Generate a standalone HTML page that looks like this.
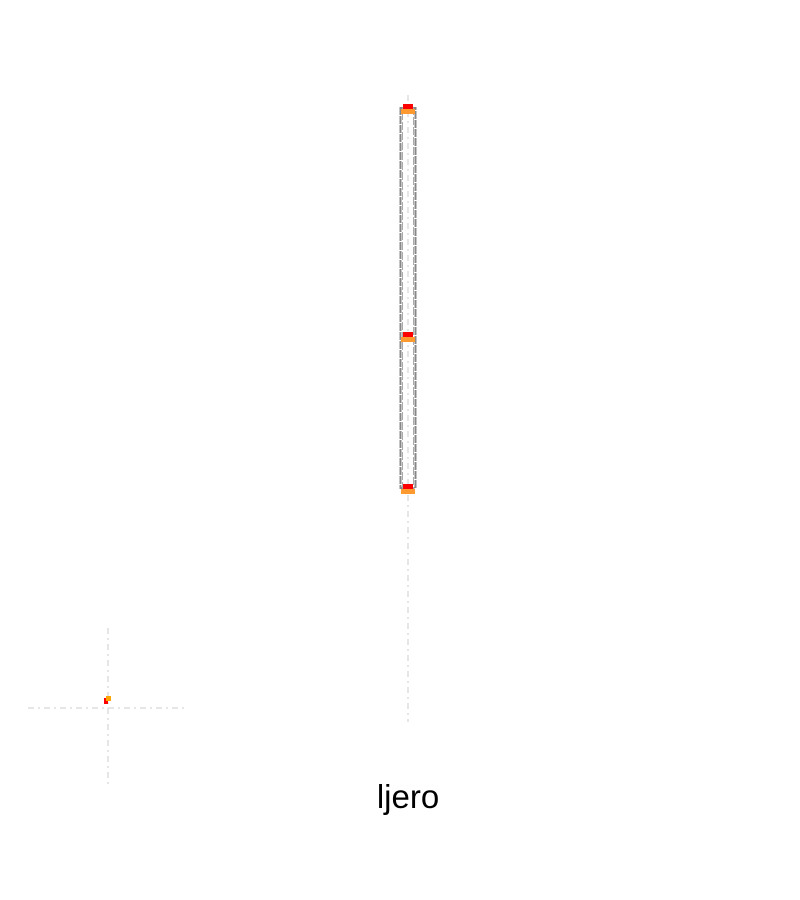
<!DOCTYPE html>
<html><head><meta charset="utf-8"><style>
html,body{margin:0;padding:0;background:#fff;width:800px;height:900px;overflow:hidden}
svg{display:block}
</style></head><body>
<svg id="chart" width="800" height="900" viewBox="0 0 800 900">
<g id="plot"></g>
<text x="408" y="808" text-anchor="middle" font-family="Liberation Sans, sans-serif" font-size="33" fill="#000">ljero</text>
</svg>
<script>
const categories = ["ljero"];
const lowValues = [0.2];
const midValues = [0.48];
const highValues = [0.9];
const ns = "http://www.w3.org/2000/svg";
const plot = document.getElementById("plot");
function xScale(i){ return 408 + i * 100; }
function ys(v){ const a = (488 - 108) / (0.9 - 0.2); return 488 - (v - 0.2) * a; }
function mk(tag, attrs){ const e = document.createElementNS(ns, tag); for (const k in attrs) e.setAttribute(k, attrs[k]); plot.appendChild(e); return e; }
let e = mk("line",{x1:28,y1:708,x2:188,y2:708,stroke:"#ddd","stroke-width":1.5,"stroke-dasharray":"6,4,2,4"});


e = mk("line",{x1:108,y1:628,x2:108,y2:788,stroke:"#ddd","stroke-width":1.5,"stroke-dasharray":"6,4,2,4"});


e = mk("rect",{x:104,y:698,width:4,height:6,fill:"#f00"});


e = mk("rect",{x:106,y:696,width:5,height:5,fill:"#ffa500"});


categories.forEach((c, i) => {
  const cx = xScale(i);
  const yl = ys(lowValues[i]), ym = ys(midValues[i]), yh = ys(highValues[i]);
  let g = mk("line",{x1:cx,y1:95,x2:cx,y2:722,stroke:"#ddd","stroke-width":1.5,"stroke-dasharray":"6,4,2,4"});
  
  
  let b = mk("rect",{x:cx-7.5,y:yh,width:15,height:yl-yh,fill:"none",stroke:"#888","stroke-width":2,"stroke-dasharray":"8,1"});
  
  
  let b2 = mk("rect",{x:cx-5.5,y:yh,width:11,height:yl-yh,fill:"none",stroke:"#aaa","stroke-width":1,"stroke-dasharray":"8,2"});
  
  
  [[yh,'high'],[ym,'mid'],[yl,'low']].forEach(([y,n]) => {
    let r = mk("rect",{x:cx-5,y:y-4,width:10,height:5,fill:"#f00"});
    
    
    let o = mk("rect",{x:cx-7,y:y+1,width:14,height:5,fill:"#ff9a30"});
    
    
  });
});
</script>
</body></html>
